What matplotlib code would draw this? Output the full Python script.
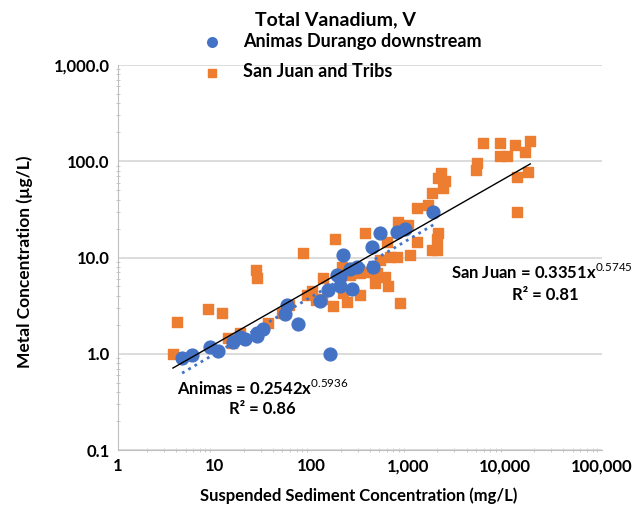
import matplotlib.pyplot as plt
import matplotlib.ticker as mticker
import numpy as np

plt.rcParams['font.family'] = ['Lato', 'DejaVu Sans']
plt.rcParams['mathtext.fontset'] = 'custom'
plt.rcParams['mathtext.rm'] = 'Lato'
plt.rcParams['mathtext.bf'] = 'Lato:bold'

# Animas River below Durango: suspended sediment (mg/L) vs total V (ug/L)
animas_ssc = [4.6, 5.8, 8.9, 10.8, 15.5, 18.3, 20.6, 27.4, 27.4, 31.6, 53, 56, 73,
              123, 149, 198, 263, 198, 251, 296, 434, 212, 424, 512, 767, 930,
              1810, 156, 184]
animas_v = [0.91, 0.98, 1.18, 1.07, 1.33, 1.50, 1.43, 1.65, 1.54, 1.82, 2.6, 3.2, 2.05,
            3.55, 4.6, 5.0, 4.7, 6.3, 7.6, 8.0, 8.0, 10.7, 12.9, 18.0, 18.5, 19.9,
            29.8, 1.0, 6.6]

# San Juan River and tributaries
sj_ssc = [4.07, 3.7, 8.5, 11.9, 13.7, 15.1, 18.3, 26.7, 27.4, 35.6, 50, 59, 82, 90,
          101, 112, 129, 132, 167, 175, 207, 212, 233, 251, 318, 318, 376, 358, 455,
          477, 605, 620, 767, 787, 824, 998, 1050, 1240, 1240, 1610, 1770, 1770, 1990,
          1990, 2040, 2190, 2040, 2410, 2300, 650, 512, 430, 5150, 5040, 5950, 8920,
          12700, 18200, 16200, 8920, 10500, 17400, 13400, 13400, 577, 282]
sj_v = [2.15, 1.0, 2.93, 2.67, 1.47, 1.30, 1.65, 7.45, 6.15, 2.1, 2.67, 3.2, 11.2, 4.1,
        4.5, 3.6, 3.7, 6.15, 3.15, 15.6, 8.0, 4.3, 3.47, 6.6, 6.9, 4.1, 7.1, 18.0, 5.5,
        6.9, 14.6, 5.0, 10.2, 23.5, 3.4, 21.9, 10.7, 32.8, 14.6, 35.3, 47, 12.0, 12.0,
        15.6, 18.0, 76, 67, 63, 53, 10.2, 9.5, 7.1, 96, 81, 155, 155,
        148, 163, 125, 114, 114, 78, 69, 29.8, 6.3, 7.8]

# power-law trendlines y = a * x^b
animas_fit = (0.2542, 0.5936, 0.86)
sj_fit = (0.3351, 0.5745, 0.81)

blue = '#4472C4'
orange = '#ED7D31'

fig = plt.figure(figsize=(6.41, 5.14), dpi=100)
ax = fig.add_axes([0.184, 0.1245, 0.755, 0.749])

ax.scatter(animas_ssc, animas_v, s=85, color=blue, marker='o', zorder=3,
           label='Animas Durango downstream')
ax.scatter(sj_ssc, sj_v, s=60, color=orange, marker='s', zorder=2,
           label='San Juan and Tribs')

xs = np.logspace(np.log10(min(sj_ssc)), np.log10(max(sj_ssc)), 100)
ax.plot(xs, sj_fit[0] * xs ** sj_fit[1], color='black', lw=1, zorder=4)
xa = np.logspace(np.log10(min(animas_ssc)), np.log10(max(animas_ssc)), 100)
ax.plot(xa, animas_fit[0] * xa ** animas_fit[1], color=blue, lw=2,
        linestyle=(0, (1, 1.6)), zorder=4)

ax.set_xscale('log')
ax.set_yscale('log')
ax.set_xlim(1, 100000)
ax.set_ylim(0.1, 1000)

ax.xaxis.set_major_formatter(mticker.FuncFormatter(lambda v, p: f'{v:,.0f}'))
ax.yaxis.set_major_formatter(mticker.FuncFormatter(lambda v, p: f'{v:,.1f}'))
ax.xaxis.set_minor_formatter(mticker.NullFormatter())
ax.yaxis.set_minor_formatter(mticker.NullFormatter())

ax.grid(axis='y', which='major', color='#D9D9D9', lw=1.3)
ax.set_axisbelow(True)
for side in ['top', 'right']:
    ax.spines[side].set_visible(False)
for side in ['left', 'bottom']:
    ax.spines[side].set_color('#BFBFBF')
ax.tick_params(which='major', length=0, labelsize=12, pad=6)
ax.tick_params(which='minor', length=3, color='#BFBFBF', direction='inout')
for lab in ax.get_xticklabels() + ax.get_yticklabels():
    lab.set_fontweight('bold')

ax.set_xlabel('Suspended Sediment Concentration (mg/L)', fontsize=12,
              fontweight='bold')
ax.xaxis.set_label_coords(0.498, -0.097)
ax.set_ylabel('Metal Concentration (µg/L)', fontsize=12.5, fontweight='bold')
ax.yaxis.set_label_coords(-0.176, 0.49)

fig.text(0.524, 0.962, 'Total Vanadium, V', ha='center', va='center',
         fontsize=14, fontweight='bold')
fig.legend(loc='upper left', bbox_to_anchor=(0.317, 0.936), frameon=False,
           prop={'weight': 'bold', 'size': 13}, markerscale=0.75,
           handlelength=1.0, handletextpad=1.22, labelspacing=0.75,
           borderpad=0, borderaxespad=0)

sj_eq = 'San Juan = %.4fx$^{\\mathrm{%.4f}}$' % sj_fit[:2]
ax.text(0.875, 0.462, sj_eq, transform=ax.transAxes, ha='center', va='center',
        fontsize=12, fontweight='bold')
ax.text(0.884, 0.403, 'R² = %.2f' % sj_fit[2], transform=ax.transAxes,
        ha='center', va='center', fontsize=12, fontweight='bold')
an_eq = 'Animas = %.4fx$^{\\mathrm{%.4f}}$' % animas_fit[:2]
ax.text(0.122, 0.161, an_eq, transform=ax.transAxes, ha='left', va='center',
        fontsize=12, fontweight='bold')
ax.text(0.298, 0.106, 'R² = %.2f' % animas_fit[2], transform=ax.transAxes,
        ha='center', va='center', fontsize=12, fontweight='bold')

fig.savefig('out.png', dpi=100)
